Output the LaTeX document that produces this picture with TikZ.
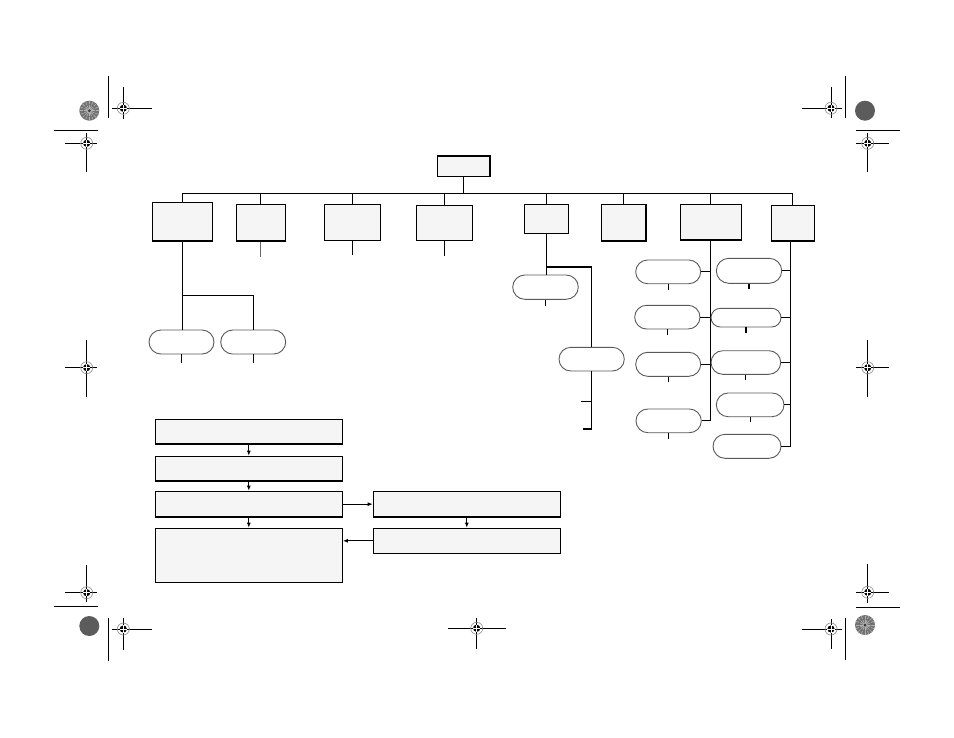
\documentclass[tikz,border=0pt]{standalone}
\usetikzlibrary{arrows.meta,shapes.misc}
\begin{document}
\begin{tikzpicture}[x=1pt,y=-1pt,
  rect/.style={draw=black,line width=1.2pt,fill=black!4,inner sep=0pt},
  pill/.style={rounded rectangle,draw=black!65,line width=0.9pt,fill=white,inner sep=0pt},
  conn/.style={draw=black,line width=1.2pt},
  flow/.style={draw=black,line width=1pt,-{Latex[length=5pt,width=4pt]}},
  regline/.style={draw=black,line width=1pt}]
\useasboundingbox (0,0) rectangle (954,737);
\newcommand\bx[6]{\node[#1,minimum width={#5-#3},minimum height={#6-#4}] (#2) at ({(#3+#5)/2},{(#4+#6)/2}) {};}
\newcommand\regmark[6]{%
  \draw[regline] (#1-#3,#2) -- (#1+#4,#2);
  \draw[regline] (#1,#2-#5) -- (#1,#2+#6);
  \draw[black!45,line width=0.6pt] (#1,#2) circle (6);
  \fill[black] (#1,#2) circle (3.6);
  \draw[white,line width=0.5pt] (#1-3.6,#2) -- (#1+3.6,#2) (#1,#2-3.6) -- (#1,#2+3.6);}
\newcommand\pdisc[2]{%
  \fill[black!55] (#1,#2) circle (10);
  \foreach \a in {0,22.5,...,337.5}{\draw[black!30,line width=0.6pt] (#1,#2) -- ++(\a:9.5);}
  \draw[black!60,line width=0.5pt] (#1,#2) circle (6);
  \fill[black!80] (#1,#2) circle (1.5);}
\newcommand\sdisc[2]{\fill[black!64] (#1,#2) circle (10);}

% ---- top level ----
\bx{rect}{top}{437.7}{156}{490}{176.3}
\bx{rect}{A}{152.3}{202.3}{212.3}{241}
\bx{rect}{B}{236.3}{204.3}{285.3}{241}
\bx{rect}{C}{324.3}{204.3}{380.3}{240.3}
\bx{rect}{D}{416.3}{205.3}{472.3}{240.3}
\bx{rect}{E}{524.3}{204.3}{568.3}{233.3}
\bx{rect}{F}{601.3}{204.3}{646}{241}
\bx{rect}{G}{680.3}{204.3}{741.3}{240}
\bx{rect}{H}{771.3}{205.3}{814.3}{241}
\coordinate (busL) at (A.north |- 0,193.3);
\coordinate (busR) at (H.north |- 0,193.3);
\draw[conn] (busL) -- (busR);
\draw[conn] (top.south) -- (top.south |- busL);
\foreach \n in {A,B,C,D,E,F,G,H}{\draw[conn] (\n.north) -- (\n.north |- busL);}
\draw[black!60,line width=1.2pt] (B.south) -- ++(0,15.7);
\draw[conn] (C.south) -- ++(0,14);
\draw[conn] (D.south) -- ++(0,15.4);

% ---- A subtree ----
\bx{pill}{A1}{149}{330}{214}{354}
\bx{pill}{A2}{220.7}{330}{285.7}{354}
\draw[conn] (A.south) -- (A.south |- A1.north);
\draw[conn] (A.south) ++(0,54) -| (A2.north);
\draw[conn] (A1.south) -- ++(0,9);
\draw[conn] (A2.south) -- ++(0,9);

% ---- E subtree ----
\bx{pill}{E1}{512.7}{275}{578.3}{299.3}
\bx{pill}{E2}{559}{347.3}{624.3}{371}
\draw[conn] (E.south) -- (E.south |- E1.north);
\draw[conn] (E.south) ++(0,33) -| (E2.north);
\draw[conn] (E1.south) -- ++(0,6.4);
\coordinate (Eend) at (E2.south |- 0,429);
\draw[conn] (E2.south) -- (Eend) -- ++(-9,0);
\draw[conn] (E2.south |- 0,401.7) -- ++(-11,0);

% ---- G subtree ----
\bx{pill}{G1}{635.7}{260}{700.7}{283.7}
\bx{pill}{G2}{634.7}{305.3}{700}{329}
\bx{pill}{G3}{635.7}{352.3}{700.7}{376.3}
\bx{pill}{G4}{636}{409}{701.3}{432.7}
\draw[conn] (G.south) |- (G4.east);
\foreach \n in {G1,G2,G3}{\draw[conn] (\n.east) -- (\n.east -| G.south);}
\foreach \n in {G1,G2,G3,G4}{\draw[conn] (\n.south) -- ++(0,5.6);}

% ---- H subtree ----
\bx{pill}{H1}{716.3}{258.3}{781.7}{283.3}
\bx{pill}{H2}{711}{308.3}{781}{327}
\bx{pill}{H3}{711}{350.7}{780.7}{374.3}
\bx{pill}{H4}{716.3}{393}{784}{416.7}
\bx{pill}{H5}{713}{434.3}{781}{458.3}
\coordinate (Hx) at (790.5,241);
\draw[conn] (Hx) |- (H5.east);
\foreach \n in {H1,H2,H3,H4}{\draw[conn] (\n.east) -- (\n.east -| Hx);}
\foreach \n in {H1,H2,H3,H4}{\draw[conn] (\n.south) -- ++(0,5.2);}

% ---- flow chart ----
\bx{rect}{B1}{155.3}{419.3}{342.3}{444}
\bx{rect}{B2}{155.3}{456.3}{342.3}{481}
\bx{rect}{B3}{155.3}{491.3}{342.3}{517}
\bx{rect}{B4}{155.3}{528.3}{342.3}{582.3}
\bx{rect}{R1}{373.3}{491.3}{560.3}{517}
\bx{rect}{R2}{373.3}{528.3}{560.3}{553.3}
\draw[flow] (B1.south) -- (B2.north);
\draw[flow] (B2.south) -- (B3.north);
\draw[flow] (B3.south) -- (B4.north);
\draw[flow] (B3.east) -- (R1.west);
\draw[flow] (R1.south) -- (R2.north);
\draw[flow] (R2.west) -- (R2.west -| B4.east);

% ---- printer marks ----
\regmark{123.3}{108.3}{11}{28.4}{21.6}{10.7}
\regmark{86.7}{143.3}{21.7}{10.6}{10}{28.4}
\regmark{831}{108.3}{29.3}{10.7}{21.6}{10}
\regmark{867.7}{143.3}{11.7}{21.3}{10}{28.4}
\regmark{86.7}{367.7}{21.7}{10.6}{27.7}{29}
\regmark{867.7}{367.7}{11.7}{21.3}{27.7}{29}
\regmark{86.7}{592.7}{21.7}{10.6}{28}{9}
\regmark{867.7}{592.3}{11.7}{21.3}{28.3}{10.4}
\regmark{123.3}{629}{11.6}{28.4}{10.7}{21}
\regmark{831}{629}{29.3}{10.7}{9.7}{20.3}
\regmark{476.7}{628.3}{28.4}{29}{10}{21}
\draw[regline] (108.3,76) -- (108.3,118.3);
\draw[regline] (54,130.7) -- (97.7,130.7);
\draw[regline] (845.3,76) -- (845.3,118.3);
\draw[regline] (856,130) -- (900,130);
\draw[regline] (54,606.7) -- (97.7,606.7);
\draw[regline] (108.3,618.3) -- (108.3,660.7);
\draw[regline] (856,607.3) -- (900,607.3);
\draw[regline] (845.3,618.3) -- (845.3,660);
\pdisc{89.3}{110.7}
\sdisc{865}{110.7}
\sdisc{89.3}{626}
\pdisc{865}{625}
\end{tikzpicture}
\end{document}
